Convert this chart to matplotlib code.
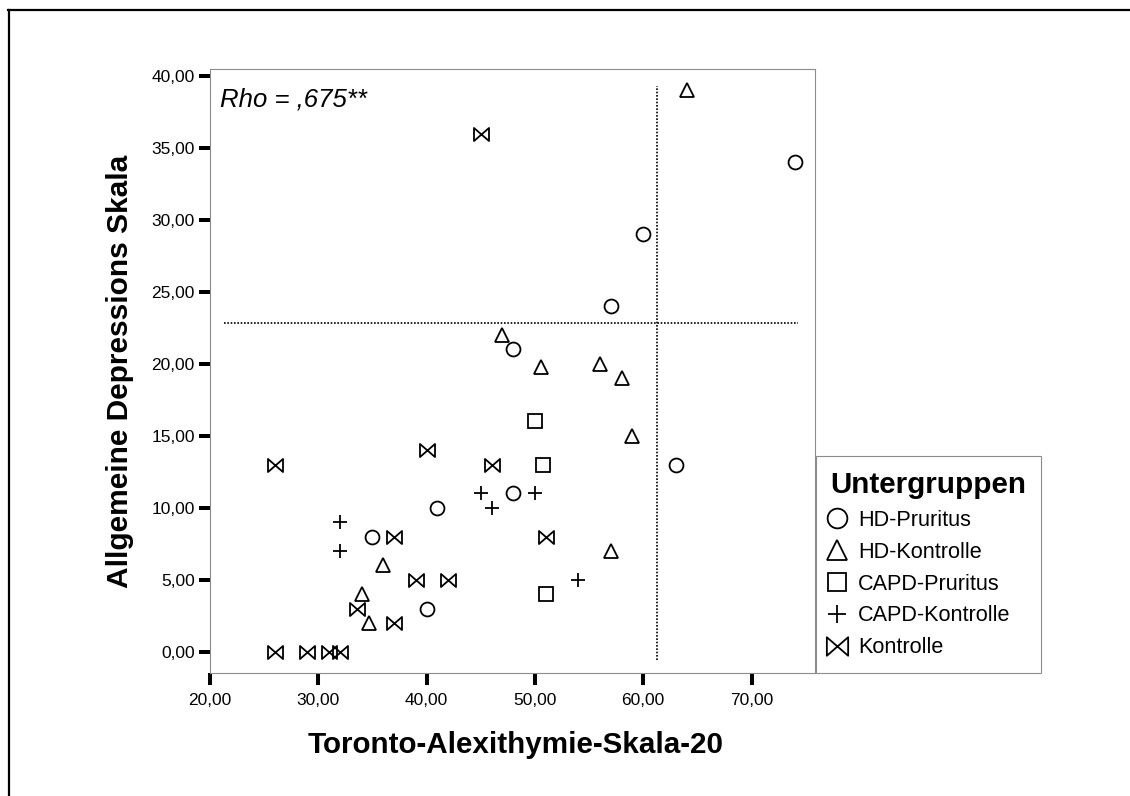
import matplotlib
matplotlib.use("Agg")
import matplotlib.pyplot as plt
from matplotlib.path import Path
from matplotlib.lines import Line2D

plt.rcParams['font.family'] = ['Liberation Sans', 'DejaVu Sans']

# --- data -------------------------------------------------------------
groups = ["HD-Pruritus", "HD-Kontrolle", "CAPD-Pruritus", "CAPD-Kontrolle", "Kontrolle"]

hd_pruritus_tas = [74, 60, 57, 48, 63, 48, 41, 35, 40]
hd_pruritus_ads = [34, 29, 24, 21, 13, 11, 10, 8, 3]

hd_kontrolle_tas = [64, 47, 50.6, 56, 58, 59, 57, 36, 34, 34.7]
hd_kontrolle_ads = [39, 22, 19.8, 20, 19, 15, 7, 6, 4, 2]

capd_pruritus_tas = [50, 50.7, 51]
capd_pruritus_ads = [16, 13, 4]

capd_kontrolle_tas = [45, 46, 50, 32, 32, 54]
capd_kontrolle_ads = [11, 10, 11, 9, 7, 5]

kontrolle_tas = [45, 26, 40, 46, 37, 51, 39, 42, 33.6, 37, 26, 29, 31, 32]
kontrolle_ads = [36, 13, 14, 13, 8, 8, 5, 5, 3, 2, 0, 0, 0, 0]

x_ticks = [20, 30, 40, 50, 60, 70]
x_tick_labels = ["20,00", "30,00", "40,00", "50,00", "60,00", "70,00"]
y_ticks = [0, 5, 10, 15, 20, 25, 30, 35, 40]
y_tick_labels = ["0,00", "5,00", "10,00", "15,00", "20,00", "25,00",
                 "30,00", "35,00", "40,00"]

tas_cutoff = 61.25
ads_cutoff = 22.85
rho_text = "Rho = ,675**"

# --- markers ----------------------------------------------------------
bowtie = Path([(-1, 0.87), (-1, -0.87), (1, 0.87), (1, -0.87), (-1, 0.87)],
              [Path.MOVETO, Path.LINETO, Path.LINETO, Path.LINETO, Path.CLOSEPOLY])

series = [
    (hd_pruritus_tas, hd_pruritus_ads, "o", 10.0),
    (hd_kontrolle_tas, hd_kontrolle_ads, "^", 10.5),
    (capd_pruritus_tas, capd_pruritus_ads, "s", 9.4),
    (capd_kontrolle_tas, capd_kontrolle_ads, "+", 9.6),
    (kontrolle_tas, kontrolle_ads, bowtie, 10.8),
]

W, H = 1130, 796
fig = plt.figure(figsize=(W / 100, H / 100), dpi=100)
ax = fig.add_axes([210 / W, (H - 673) / H, 605 / W, 604 / H])

for xs, ys, mk, ms in series:
    ax.plot(xs, ys, linestyle="none", marker=mk, markersize=ms,
            markerfacecolor="none", markeredgecolor="black",
            markeredgewidth=1.3, clip_on=False)

# reference lines
ax.axhline(ads_cutoff, xmin=0.023, xmax=0.972, color="black",
           linewidth=1.2, linestyle=(0, (1, 1)))
ax.axvline(tas_cutoff, ymin=0.0215, ymax=0.972, color="black",
           linewidth=1.2, linestyle=(0, (1, 1)))

ax.set_xlim(20, 75.86)
ax.set_ylim(-1.48, 40.49)

ax.set_xticks(x_ticks)
ax.set_xticklabels(x_tick_labels)
ax.set_yticks(y_ticks)
ax.set_yticklabels(y_tick_labels)
ax.tick_params(axis="x", direction="out", length=8.6, width=2.9,
               color="black", labelsize=12.5, pad=6)
ax.tick_params(axis="y", direction="out", length=8.0, width=2.9,
               color="black", labelsize=12.5, pad=3)

for sp in ax.spines.values():
    sp.set_color("#8c8c8c")
    sp.set_linewidth(0.8)

ax.set_xlabel("Toronto-Alexithymie-Skala-20", fontsize=21.3,
              fontweight="bold", va="center")
ax.xaxis.set_label_coords(0.505, -0.119)
ax.set_ylabel("Allgemeine Depressions Skala", fontsize=21.5,
              fontweight="bold", va="center")
ax.yaxis.set_label_coords(-0.148, 0.5)

ax.text(0.0165, 0.9376, rho_text, transform=ax.transAxes, fontsize=18.5,
        fontstyle="italic", ha="left", va="baseline")

# legend
handles = [Line2D([], [], linestyle="none", marker=mk, markersize=ms * 1.42,
                  markerfacecolor="none", markeredgecolor="black",
                  markeredgewidth=1.3)
           for _, _, mk, ms in series]
leg = ax.legend(handles, groups, title="Untergruppen", loc="lower left",
                bbox_to_anchor=(1.0015, 0.0), borderaxespad=0,
                frameon=True, fancybox=False, edgecolor="#8c8c8c",
                prop={"size": 15.6},
                title_fontproperties={"size": 21.3, "weight": "bold"},
                alignment="left", handlelength=0.58, handletextpad=0.68,
                labelspacing=0.5, borderpad=0.68, framealpha=1)
leg.get_frame().set_linewidth(0.8)

# outer frame
fig.add_artist(Line2D([8 / W, 1.0], [1 - 10 / H, 1 - 10 / H],
                      transform=fig.transFigure, color="black", linewidth=1.6))
fig.add_artist(Line2D([9 / W, 9 / W], [0.0, 1 - 10 / H],
                      transform=fig.transFigure, color="black", linewidth=1.6))

fig.savefig("out.png", dpi=100)
